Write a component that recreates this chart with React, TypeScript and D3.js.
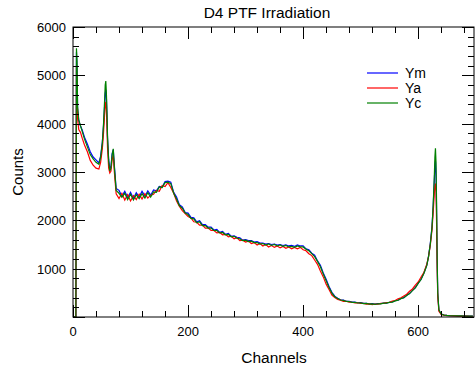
import React, { useEffect, useRef } from "react";
import * as d3 from "d3";

// channel positions of the samples
const channels = [
  0, 4, 5, 6, 7, 8, 10, 13, 16, 20, 25, 30, 35, 40, 45, 48, 51, 53, 55, 56, 57, 58, 59, 60, 62, 64, 66, 68, 70, 72, 75,
  80, 85, 90, 95, 100, 105, 110, 115, 120, 125, 130, 135,
  140, 145, 150, 155, 160, 165, 170, 175, 180, 185, 190, 195,
  200, 205, 210, 215, 220, 225, 230, 235, 240, 245, 250, 255,
  260, 265, 270, 275, 280, 285, 290, 295, 300, 305, 310, 315,
  320, 325, 330, 335, 340, 345, 350, 355, 360, 365, 370, 375,
  380, 385, 390, 395, 400, 405, 410, 415, 420, 425, 430, 435,
  440, 445, 450, 455, 460, 465, 470, 475, 480, 485, 490, 495,
  500, 505, 510, 515, 520, 525, 530, 535, 540, 545, 550, 555,
  560, 565, 570, 575, 580, 585, 590, 595, 600, 605, 610, 615,
  618, 621, 624, 626, 628, 629, 630, 631, 632, 633, 634, 636, 640,
  645, 650, 655, 660, 665, 670, 675, 680, 685, 690, 695,
];

const ym = [
  0, 0, 0, 5480, 5150, 4300, 4060, 3950, 3870, 3720, 3580, 3420, 3310, 3250, 3190, 3330, 3620, 3950, 4380, 4620, 4700, 4560, 4180, 3700, 3260, 3060, 3120, 3380, 3460, 3120, 2660,
  2620, 2500, 2600, 2470, 2580, 2450, 2570, 2480, 2600, 2500, 2610, 2520,
  2630, 2610, 2700, 2690, 2800, 2810, 2790, 2580, 2480, 2320, 2280, 2160,
  2150, 2060, 2050, 1970, 1990, 1910, 1910, 1860, 1860, 1800, 1810, 1750,
  1770, 1710, 1730, 1670, 1680, 1650, 1640, 1590, 1600, 1580, 1580, 1550,
  1560, 1530, 1530, 1510, 1520, 1500, 1510, 1490, 1500, 1480, 1490, 1470,
  1480, 1460, 1490, 1470, 1470, 1410, 1390, 1320, 1280, 1160, 1070, 910,
  780, 630, 510, 430, 390, 355, 350, 325, 325, 308, 310, 295,
  296, 283, 284, 274, 276, 266, 278, 276, 290, 288, 305, 312,
  336, 348, 383, 400, 450, 488, 550, 610, 700, 780, 910, 1075,
  1260, 1520, 1870, 2280, 2820, 3100, 3230, 2950, 2150, 1150, 480, 140, 60,
  42, 34, 30, 28, 26, 24, 22, 22, 20, 20, 20,
];

const ya = [
  0, 0, 0, 5200, 4900, 4100, 3880, 3820, 3700, 3560, 3420, 3240, 3140, 3080, 3060, 3200, 3480, 3800, 4200, 4380, 4450, 4300, 3950, 3500, 3080, 2980, 3020, 3250, 3350, 2980, 2550,
  2450, 2560, 2420, 2530, 2400, 2510, 2430, 2540, 2440, 2550, 2460, 2520,
  2540, 2620, 2600, 2720, 2700, 2780, 2680, 2560, 2400, 2290, 2200, 2140,
  2080, 2050, 1970, 1960, 1900, 1900, 1840, 1840, 1790, 1790, 1740, 1750,
  1700, 1710, 1660, 1670, 1620, 1640, 1580, 1590, 1550, 1570, 1520, 1540,
  1490, 1520, 1470, 1500, 1450, 1480, 1440, 1470, 1430, 1460, 1420, 1450,
  1410, 1440, 1410, 1440, 1390, 1370, 1310, 1270, 1180, 1090, 950, 830,
  680, 570, 455, 405, 365, 350, 325, 325, 305, 305, 290, 294,
  280, 283, 268, 272, 258, 266, 264, 280, 281, 300, 304, 330,
  341, 376, 396, 436, 470, 532, 580, 658, 725, 828, 925, 1095,
  1250, 1480, 1800, 2150, 2550, 2700, 2760, 2600, 1900, 1000, 420, 120, 50,
  38, 30, 26, 24, 22, 20, 20, 18, 18, 16, 16,
];

const yc = [
  0, 0, 0, 5560, 5300, 4350, 4080, 3960, 3840, 3680, 3520, 3360, 3270, 3200, 3160, 3300, 3600, 3980, 4500, 4800, 4880, 4650, 4250, 3750, 3220, 3020, 3080, 3350, 3480, 3080, 2620,
  2560, 2480, 2560, 2430, 2540, 2420, 2530, 2450, 2550, 2460, 2570, 2480,
  2590, 2580, 2690, 2680, 2780, 2790, 2760, 2560, 2440, 2300, 2250, 2150,
  2120, 2040, 2030, 1950, 1970, 1890, 1890, 1840, 1840, 1790, 1790, 1740,
  1750, 1700, 1710, 1660, 1670, 1630, 1620, 1580, 1590, 1560, 1570, 1540,
  1540, 1510, 1520, 1490, 1510, 1480, 1500, 1470, 1490, 1460, 1480, 1450,
  1460, 1440, 1470, 1450, 1450, 1400, 1370, 1310, 1250, 1150, 1040, 890,
  750, 610, 495, 420, 384, 352, 345, 322, 320, 304, 304, 290,
  292, 278, 280, 268, 272, 262, 274, 272, 287, 286, 304, 308,
  334, 346, 380, 398, 445, 484, 545, 604, 695, 776, 905, 1068,
  1250, 1500, 1850, 2300, 2900, 3300, 3490, 3200, 2300, 1200, 500, 150, 60,
  40, 32, 28, 26, 24, 22, 22, 20, 20, 18, 18,
];

const seriesNames = ["Ym", "Ya", "Yc"];
const seriesColors = ["#0000ff", "#ff0000", "#008000"];
const xTicks = [0, 200, 400, 600];
const yTicks = [1000, 2000, 3000, 4000, 5000, 6000];

export default function App() {
  const ref = useRef<SVGSVGElement>(null);

  useEffect(() => {
    const width = 475, height = 369;
    const left = 73, right = 474, top = 27, bottom = 317;
    const font = "Arial, 'Liberation Sans', sans-serif";

    const svg = d3.select(ref.current);
    svg.selectAll("*").remove();
    svg.attr("width", width).attr("height", height);

    const x = d3.scaleLinear().domain([0, 697]).range([left, right]);
    const y = d3.scaleLinear().domain([0, 6000]).range([bottom, top]);

    svg.append("clipPath").attr("id", "plotclip")
      .append("rect")
      .attr("x", left).attr("y", top)
      .attr("width", right - left).attr("height", bottom - top);

    // data lines, blue first, green on top
    const all = [ym, ya, yc];
    const line = d3.line<number>()
      .x((d, i) => x(channels[i]))
      .y(d => y(d));
    const g = svg.append("g").attr("clip-path", "url(#plotclip)");
    all.forEach((vals, k) => {
      g.append("path")
        .attr("d", line(vals))
        .attr("fill", "none")
        .attr("stroke", seriesColors[k])
        .attr("stroke-width", 1.2);
    });

    // frame
    svg.append("rect")
      .attr("x", left).attr("y", top)
      .attr("width", right - left).attr("height", bottom - top)
      .attr("fill", "none").attr("stroke", "black").attr("stroke-width", 1);

    // ticks on all four sides, pointing inward
    const tk = svg.append("g").attr("stroke", "black").attr("stroke-width", 1);
    const xMinor = d3.range(0, 697, 40);
    xMinor.forEach(v => {
      const len = v % 200 === 0 ? 12 : 6;
      const px = Math.round(x(v)) + 0.5;
      tk.append("line").attr("x1", px).attr("x2", px).attr("y1", bottom).attr("y2", bottom - len);
      tk.append("line").attr("x1", px).attr("x2", px).attr("y1", top).attr("y2", top + len);
    });
    const yMinor = d3.range(0, 6001, 200);
    yMinor.forEach(v => {
      const len = v % 1000 === 0 ? 12 : 6;
      const py = Math.round(y(v)) + 0.5;
      tk.append("line").attr("x1", left).attr("x2", left + len).attr("y1", py).attr("y2", py);
      tk.append("line").attr("x1", right).attr("x2", right - len).attr("y1", py).attr("y2", py);
    });

    // tick labels
    svg.append("g").selectAll("text").data(xTicks).enter().append("text")
      .attr("x", d => x(d)).attr("y", 336)
      .attr("text-anchor", "middle")
      .style("font-family", font).style("font-size", "13px")
      .text(d => d);
    svg.append("g").selectAll("text").data(yTicks).enter().append("text")
      .attr("x", 66).attr("y", d => y(d) + 5)
      .attr("text-anchor", "end")
      .style("font-family", font).style("font-size", "13px")
      .text(d => d);

    // titles
    svg.append("text")
      .attr("x", 267).attr("y", 18)
      .attr("text-anchor", "middle")
      .style("font-family", font).style("font-size", "15.5px")
      .text("D4 PTF Irradiation");
    svg.append("text")
      .attr("x", 274).attr("y", 363)
      .attr("text-anchor", "middle")
      .style("font-family", font).style("font-size", "15.5px")
      .text("Channels");
    svg.append("text")
      .attr("transform", "translate(23,172) rotate(-90)")
      .attr("text-anchor", "middle")
      .style("font-family", font).style("font-size", "15px")
      .text("Counts");

    // legend
    const lg = svg.append("g");
    seriesNames.forEach((name, k) => {
      const ly = 73 + k * 15;
      lg.append("line")
        .attr("x1", 367).attr("x2", 398).attr("y1", ly).attr("y2", ly)
        .attr("stroke", seriesColors[k]).attr("stroke-width", 1.2);
      lg.append("text")
        .attr("x", 405).attr("y", ly + 5)
        .style("font-family", font).style("font-size", "14px")
        .text(name);
    });
  }, []);

  return (
    <svg ref={ref} style={{ position: "absolute", left: 0, top: 0, background: "white" }}></svg>
  );
}
